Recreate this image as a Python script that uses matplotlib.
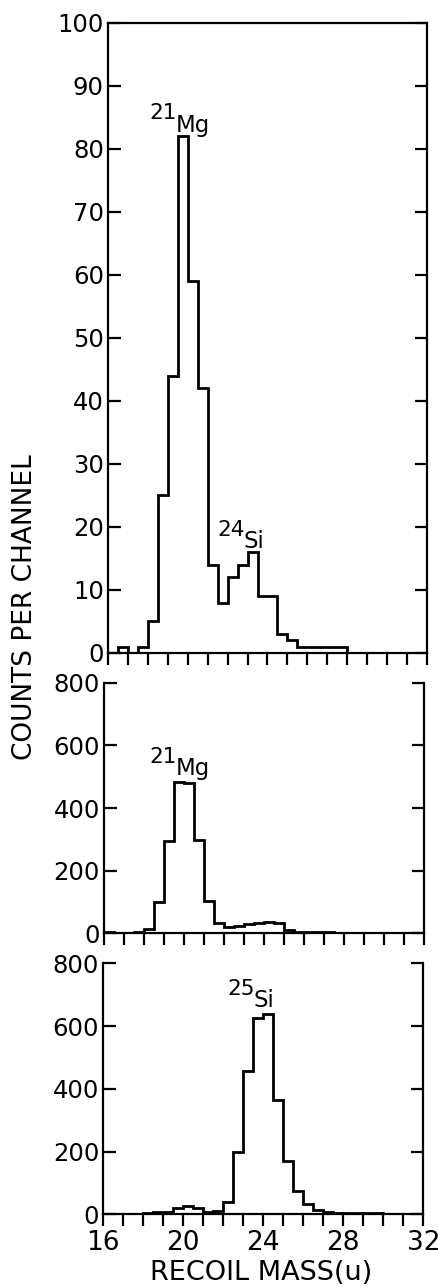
import numpy as np
import matplotlib
matplotlib.use("Agg")
import matplotlib.pyplot as plt

# ---- data -------------------------------------------------------------
bin_edges = np.arange(16.0, 32.01, 0.5)          # recoil mass bins (u)

counts_top = [0, 1, 0, 1, 5, 25, 44, 82, 59, 42, 14, 8, 12, 14, 16, 9,
              9, 3, 2, 1, 1, 1, 1, 1, 0, 0, 0, 0, 0, 0, 0, 0]
counts_mid = [3, 2, 2, 4, 13, 101, 294, 483, 481, 298, 104, 34, 19, 23, 29, 33,
              35, 34, 11, 5, 4, 3, 3, 2, 2, 2, 1, 1, 1, 1, 1, 1]
counts_bot = [1, 1, 2, 2, 3, 8, 8, 19, 27, 19, 8, 11, 40, 200, 458, 625,
              639, 364, 171, 74, 33, 14, 8, 5, 4, 3, 3, 3, 2, 2, 1, 1]

xticks = list(range(16, 33))
xticklabels = ["16", "20", "24", "28", "32"]
yticks_top = list(range(0, 101, 10))
yticks_low = [0, 200, 400, 600, 800]

# ---- figure -----------------------------------------------------------
W, H = 439, 1287
fig = plt.figure(figsize=(W / 100, H / 100), dpi=100)
plt.rcParams['font.family'] = ['DejaVu Sans']

def frac(l, r, t, b):
    return [l / W, 1 - b / H, (r - l) / W, (b - t) / H]

ax1 = fig.add_axes(frac(108, 427, 23, 653))
ax2 = fig.add_axes(frac(104, 424, 682.7, 933.3))
ax3 = fig.add_axes(frac(103.3, 423.3, 963.3, 1214.3))

LW = 2.0
for ax, counts, yt, ymax in [(ax1, counts_top, yticks_top, 100),
                             (ax2, counts_mid, yticks_low, 800),
                             (ax3, counts_bot, yticks_low, 800)]:
    ax.stairs(counts, bin_edges, color='black', lw=LW, baseline=0)
    ax.set_xlim(16, 32)
    ax.set_ylim(0, ymax)
    ax.set_xticks(xticks)
    ax.set_yticks(yt)
    ax.set_yticklabels([str(v) for v in yt])
    for s in ax.spines.values():
        s.set_linewidth(1.6)
    ax.tick_params(axis='y', which='both', direction='in', length=9, width=1.6,
                   left=True, right=True, labelsize=17.5, pad=3)
    ax.tick_params(axis='x', which='both', direction='out', length=8.5, width=1.6,
                   top=False, bottom=True, labelsize=19, pad=3)

ax2.spines['top'].set_visible(False)
ax3.spines['top'].set_visible(False)

ax1.set_xticklabels([])
ax2.set_xticklabels([])
ax3.set_xticklabels([str(v) if v in (16, 20, 24, 28, 32) else "" for v in xticks])

# ---- peak labels --------------------------------------------------------
def iso_label(ax, x, y, mass, sym, raise_pt, size=16.5):
    ax.annotate(sym, (x, y), xytext=(0, 0), textcoords='offset points',
                ha='left', va='baseline', fontsize=size)
    ax.annotate(mass, (x, y), xytext=(0.5, raise_pt), textcoords='offset points',
                ha='right', va='baseline', fontsize=size - 1)

iso_label(ax1, 19.41, 82.7, "21", "Mg", 9.0)
iso_label(ax1, 22.82, 16.6, "24", "Si", 9.0)
iso_label(ax2, 19.6, 505, "21", "Mg", 9.0)
iso_label(ax3, 23.53, 660, "25", "Si", 8.8)

# ---- axis titles --------------------------------------------------------
fig.text(25 / W, 1 - 607 / H, "COUNTS PER CHANNEL", rotation=90,
         ha='center', va='center', fontsize=19)
fig.text(261 / W, 1 - 1273 / H, "RECOIL MASS(u)", ha='center', va='center',
         fontsize=19.5)

fig.savefig("out.png", dpi=100)
